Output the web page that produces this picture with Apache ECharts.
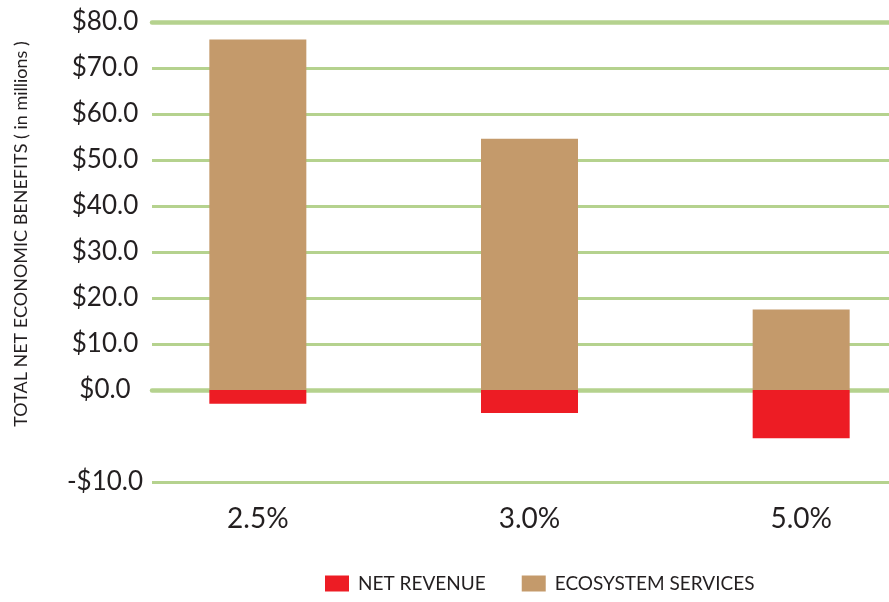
<!DOCTYPE html>
<html>
<head>
<meta charset="utf-8">
<script src="https://cdn.jsdelivr.net/npm/echarts@6/dist/echarts.min.js"></script>
<style>
  html, body { margin: 0; padding: 0; background: #fff; }
  #chart { width: 889px; height: 602px; }
</style>
</head>
<body>
<div id="chart"></div>
<script>
// discount rates
var categories = ['2.5%', '3.0%', '5.0%'];
var netRevenue = [-3.0, -5.0, -10.5];
var ecosystemServices = [76.2, 54.6, 17.5];
// the axis in the source has its lowest line labelled -$10.0 but drawn at the -20 position
var yTicks = [-20, -10, 0, 10, 20, 30, 40, 50, 60, 70, 80];
var yTickLabels = ['-$10.0', '', '$0.0', '$10.0', '$20.0', '$30.0', '$40.0', '$50.0', '$60.0', '$70.0', '$80.0'];

var GREEN = '#b5d28e';
var FONT = 'Lato';
var TEXT = '#231f20';

var chart = echarts.init(document.getElementById('chart'));

chart.setOption({
    animation: false,
    textStyle: { fontFamily: FONT },
    grid: [
        { left: 152, right: 0, top: 22, bottom: 120, outerBoundsMode: 'none' },   // gridlines + y labels
        { left: 122, width: 815, top: 22, bottom: 120, outerBoundsMode: 'none' }  // bars + category labels (runs past the right edge)
    ],
    legend: {
        left: 325,
        top: 574,
        padding: 0,
        icon: 'rect',
        itemWidth: 24,
        itemHeight: 16,
        itemGap: 36,
        textStyle: { fontFamily: FONT, fontSize: 19, color: TEXT, padding: [0, 0, 0, 4] },
        data: ['NET REVENUE', 'ECOSYSTEM SERVICES']
    },
    graphic: [{
        type: 'text',
        x: 21,
        y: 234,
        rotation: Math.PI / 2,
        style: {
            text: 'TOTAL NET ECONOMIC BENEFITS ( in millions )',
            fontFamily: FONT,
            fontSize: 18,
            fill: TEXT,
            textAlign: 'center',
            textVerticalAlign: 'middle'
        }
    }],
    xAxis: [
        {
            gridIndex: 0, type: 'value', min: 0, max: 1,
            axisLabel: { show: false }, axisTick: { show: false }, splitLine: { show: false },
            axisLine: { show: true, onZero: true, lineStyle: { color: GREEN, width: 4.5 } }
        },
        {
            gridIndex: 0, type: 'value', min: 0, max: 1, position: 'top',
            axisLabel: { show: false }, axisTick: { show: false }, splitLine: { show: false },
            axisLine: { show: true, onZero: false, lineStyle: { color: GREEN, width: 4.5 } }
        },
        {
            gridIndex: 1, type: 'category', data: categories,
            axisLine: { show: false }, axisTick: { show: false },
            axisLabel: { fontFamily: FONT, fontSize: 28, color: TEXT, margin: 23 }
        }
    ],
    yAxis: [
        {
            gridIndex: 0, type: 'value', min: -20, max: 80, interval: 10,
            axisLine: { show: false }, axisTick: { show: false },
            axisLabel: {
                fontFamily: FONT, fontSize: 26, color: TEXT, align: 'center', margin: 47,
                formatter: function (v) { return yTickLabels[yTicks.indexOf(v)]; }
            },
            splitLine: {
                show: true,
                lineStyle: {
                    width: 2.8,
                    color: yTicks.map(function (v) { return v === -10 ? 'rgba(0,0,0,0)' : GREEN; })
                }
            }
        },
        {
            gridIndex: 1, type: 'value', min: -20, max: 80, interval: 10, show: false
        }
    ],
    series: [
        {
            name: 'NET REVENUE',
            type: 'bar',
            xAxisIndex: 2,
            yAxisIndex: 1,
            stack: 'total',
            barWidth: 97,
            itemStyle: { color: '#ed1c24' },
            data: netRevenue
        },
        {
            name: 'ECOSYSTEM SERVICES',
            type: 'bar',
            xAxisIndex: 2,
            yAxisIndex: 1,
            stack: 'total',
            barWidth: 97,
            itemStyle: { color: '#c49a6b' },
            data: ecosystemServices
        }
    ]
});
</script>
</body>
</html>
